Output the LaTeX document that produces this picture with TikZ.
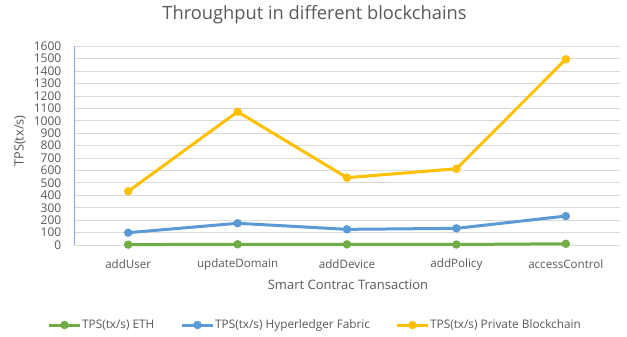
\documentclass[tikz,border=0pt]{standalone}
\usepackage{fontspec}
\setmainfont{Open Sans}
\definecolor{txt}{HTML}{595959}
\definecolor{grid}{HTML}{D9D9D9}
\definecolor{axisblue}{HTML}{8FAADC}
\definecolor{ethgreen}{HTML}{70AD47}
\definecolor{hlfblue}{HTML}{5B9BD5}
\definecolor{privgold}{HTML}{FFC000}
\tikzset{
  gridline/.style={grid, line width=0.9pt},
  series/.style={line width=3pt, line join=round, line cap=round},
  dot/.style={circle, fill=#1, draw=none, inner sep=0pt, minimum size=8.5pt},
  ticklab/.style={text=txt, font=\fontsize{12}{12}\selectfont, anchor=east, inner sep=0pt},
  catlab/.style={text=txt, font=\fontsize{11.6}{12}\selectfont, inner sep=0pt},
  legtext/.style={text=txt, font=\fontsize{11.8}{12}\selectfont, anchor=west, inner sep=0pt},
}
\begin{document}
\begin{tikzpicture}[x=1pt, y=-1pt]
\useasboundingbox[fill=white] (0,0) rectangle (627,337);

% horizontal grid lines, 0 to 1600 in steps of 100
\foreach \v in {0,100,...,1600} {
  \draw[gridline] (74,{245-\v*0.1242}) -- (620,{245-\v*0.1242});
  \node[ticklab] (t\v) at (61.5,{245-\v*0.1242}) {\v};
}
% value axis
\draw[axisblue, line width=0.9pt] (74,46.3) -- (74,245);

% title and axis titles
\node[text=txt, font=\fontsize{18.3}{19}\selectfont] (title) at (314.5,15) {Throughput in different blockchains};
\node[text=txt, font=\fontsize{12.8}{13}\selectfont, rotate=90] (ytitle) at (20,141) {TPS(tx/s)};
\node[text=txt, font=\fontsize{13}{13}\selectfont] (xtitle) at (348,285) {Smart Contrac Transaction};

% category labels
\foreach \c/\lab in {1/addUser,2/updateDomain,3/addDevice,4/addPolicy,5/accessControl} {
  \node[catlab] (c\c) at ({128.2+(\c-1)*109.4},264) {\lab};
}

% data points
\foreach \c/\e/\h/\p in {1/3/99/432, 2/6/175/1073, 3/5/126/542, 4/4/134/614, 5/10/233/1495} {
  \coordinate (e\c) at ({128.2+(\c-1)*109.4},{245-\e*0.1242});
  \coordinate (h\c) at ({128.2+(\c-1)*109.4},{245-\h*0.1242});
  \coordinate (p\c) at ({128.2+(\c-1)*109.4},{245-\p*0.1242});
}

% series
\draw[series, ethgreen] (e1) -- (e2) -- (e3) -- (e4) -- (e5);
\foreach \c in {1,...,5} \node[dot=ethgreen] (me\c) at (e\c) {};
\draw[series, hlfblue] (h1) -- (h2) -- (h3) -- (h4) -- (h5);
\foreach \c in {1,...,5} \node[dot=hlfblue] (mh\c) at (h\c) {};
\draw[series, privgold] (p1) -- (p2) -- (p3) -- (p4) -- (p5);
\foreach \c in {1,...,5} \node[dot=privgold] (mp\c) at (p\c) {};

% legend
\foreach \k/\col/\x/\lab in {a/ethgreen/49/{TPS(tx/s) ETH}, b/hlfblue/182/{TPS(tx/s) Hyperledger Fabric}, c/privgold/397/{TPS(tx/s) Private Blockchain}} {
  \coordinate (l\k a) at (\x,325);
  \coordinate (l\k b) at (\x+31,325);
  \draw[series, line cap=butt, \col] (l\k a) -- (l\k b);
  \node[dot=\col] (lm\k) at (\x+15.5,325) {};
  \node[legtext] (lt\k) at (\x+33,325) {\lab};
}
\end{tikzpicture}
\end{document}
